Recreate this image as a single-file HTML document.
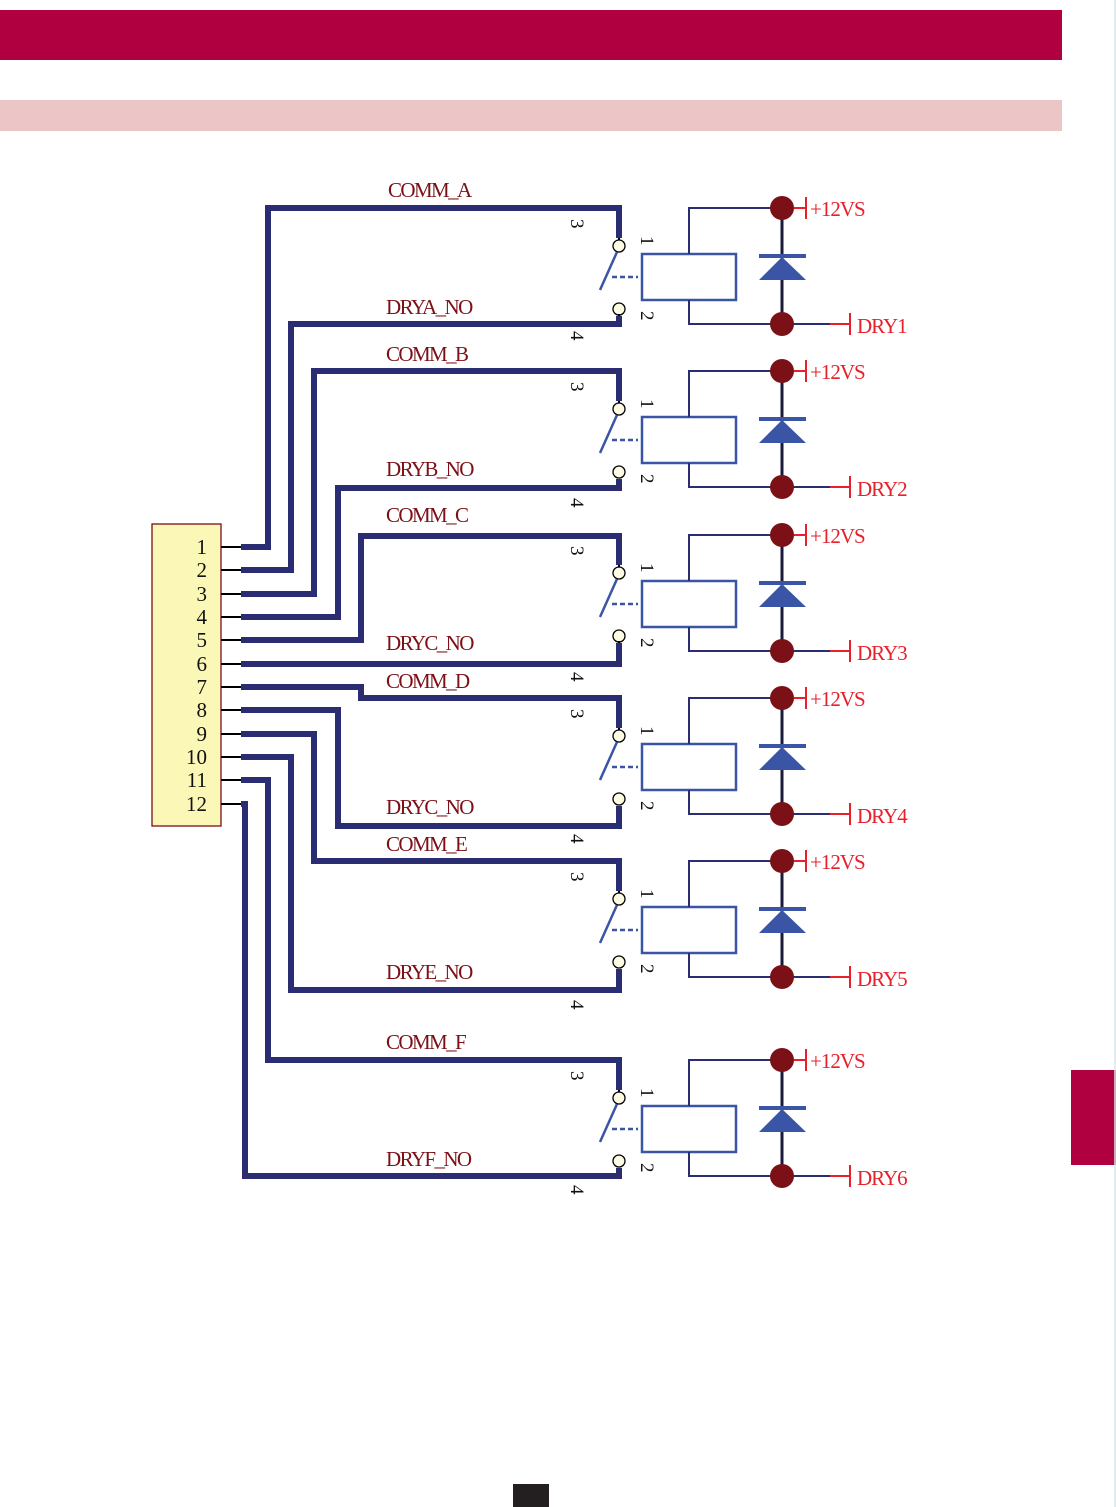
<!DOCTYPE html>
<html><head><meta charset="utf-8"><style>
html,body{margin:0;padding:0;background:#fff;}
svg{display:block;}
.lb{font-family:"Liberation Serif",serif;font-size:21px;fill:#7b1016;letter-spacing:-1.6px;}
.rd{font-family:"Liberation Serif",serif;font-size:21px;fill:#e8202a;letter-spacing:-1px;}
.dg{font-family:"Liberation Serif",serif;font-size:19px;fill:#111;}
.pn{font-family:"Liberation Serif",serif;font-size:21px;fill:#111;}
</style></head><body>
<svg width="1116" height="1507" viewBox="0 0 1116 1507" xmlns="http://www.w3.org/2000/svg">
<defs>
<g id="r">
 <line x1="619" y1="30" x2="619" y2="34" stroke="#000" stroke-width="2"/>
 <circle cx="619" cy="38" r="6" fill="#fdfbe3" stroke="#000" stroke-width="1.3"/>
 <circle cx="619" cy="101" r="6" fill="#fdfbe3" stroke="#000" stroke-width="1.3"/>
 <line x1="617" y1="44" x2="600" y2="82" stroke="#3a55a5" stroke-width="2.5"/>
 <line x1="612" y1="69" x2="638" y2="69" stroke="#3a55a5" stroke-width="2.5" stroke-dasharray="5,3"/>
 <rect x="642" y="46" width="94" height="46" fill="#fff" stroke="#3a55a5" stroke-width="2.5"/>
 <polyline points="689,46 689,0 782,0" fill="none" stroke="#2b2d72" stroke-width="2"/>
 <polyline points="689,92 689,116 830,116" fill="none" stroke="#2b2d72" stroke-width="2"/>
 <line x1="782" y1="0" x2="782" y2="116" stroke="#1a1a3a" stroke-width="3"/>
 <line x1="759" y1="48" x2="806" y2="48" stroke="#3a55a5" stroke-width="4"/>
 <polygon points="759,72 806,72 782,49" fill="#3a55a5"/>
 <circle cx="782" cy="0" r="12" fill="#7b1016"/>
 <circle cx="782" cy="116" r="12" fill="#7b1016"/>
 <line x1="794" y1="0" x2="806" y2="0" stroke="#e8202a" stroke-width="2"/>
 <line x1="806" y1="-11" x2="806" y2="11" stroke="#e8202a" stroke-width="2"/>
 <line x1="830" y1="116" x2="850" y2="116" stroke="#e8202a" stroke-width="2"/>
 <line x1="850" y1="105" x2="850" y2="127" stroke="#e8202a" stroke-width="2"/>
</g>
</defs>
<rect x="0" y="10" width="1062" height="50" fill="#b0003f"/>
<rect x="0" y="100" width="1062" height="31" fill="#ecc6c6"/>
<rect x="1071" y="1070" width="45" height="95" fill="#b0003f"/>
<rect x="513" y="1484" width="36" height="23" fill="#231f20"/>
<line x1="1115" y1="0" x2="1115" y2="1507" stroke="#dbe6ec" stroke-width="1.5"/>

<!-- connector -->
<rect x="152" y="524" width="69" height="302" fill="#fbf7b6" stroke="#7b1016" stroke-width="1.3"/>
<g stroke="#000" stroke-width="2">
<line x1="221" y1="547" x2="241" y2="547"/><line x1="221" y1="570" x2="241" y2="570"/>
<line x1="221" y1="594" x2="241" y2="594"/><line x1="221" y1="617" x2="241" y2="617"/>
<line x1="221" y1="640" x2="241" y2="640"/><line x1="221" y1="664" x2="241" y2="664"/>
<line x1="221" y1="687" x2="241" y2="687"/><line x1="221" y1="710" x2="241" y2="710"/>
<line x1="221" y1="734" x2="241" y2="734"/><line x1="221" y1="757" x2="241" y2="757"/>
<line x1="221" y1="780" x2="241" y2="780"/><line x1="221" y1="804" x2="241" y2="804"/>
</g>
<g class="pn" text-anchor="end">
<text x="207" y="554">1</text><text x="207" y="577">2</text><text x="207" y="601">3</text>
<text x="207" y="624">4</text><text x="207" y="647">5</text><text x="207" y="671">6</text>
<text x="207" y="694">7</text><text x="207" y="717">8</text><text x="207" y="741">9</text>
<text x="207" y="764">10</text><text x="207" y="787">11</text><text x="207" y="811">12</text>
</g>

<!-- relays -->
<use href="#r" y="208"/><use href="#r" y="371"/><use href="#r" y="535"/>
<use href="#r" y="698"/><use href="#r" y="861"/><use href="#r" y="1060"/>

<!-- wires -->
<g fill="none" stroke="#2b2d72" stroke-width="6" stroke-linejoin="miter">
<path d="M241 547 H268 V208 H619 V238"/>
<path d="M241 570 H291 V324 H619 V316"/>
<path d="M241 594 H314 V371 H619 V401"/>
<path d="M241 617 H338 V488 H619 V479"/>
<path d="M241 640 H361 V536 H619 V565"/>
<path d="M241 664 H619 V643"/>
<path d="M241 687 H361 V698 H619 V728"/>
<path d="M241 710 H338 V826 H619 V806"/>
<path d="M241 734 H314 V861 H619 V891"/>
<path d="M241 757 H291 V990 H619 V969"/>
<path d="M241 780 H268 V1060 H619 V1090"/>
<path d="M241 804 H245 V1176 H619 V1168"/>
</g>
<g stroke="#000" stroke-width="2">
<line x1="619" y1="316" x2="619" y2="314"/>
<line x1="619" y1="643" x2="619" y2="641"/>
</g>

<!-- labels -->
<g class="lb">
<text x="388" y="197">COMM_A</text><text x="386" y="314">DRYA_NO</text>
<text x="386" y="361">COMM_B</text><text x="386" y="476">DRYB_NO</text>
<text x="386" y="522">COMM_C</text><text x="386" y="650">DRYC_NO</text>
<text x="386" y="688">COMM_D</text><text x="386" y="814">DRYC_NO</text>
<text x="386" y="851">COMM_E</text><text x="386" y="979">DRYE_NO</text>
<text x="386" y="1049">COMM_F</text><text x="386" y="1166">DRYF_NO</text>
</g>
<g class="rd">
<text x="810" y="216">+12VS</text><text x="857" y="333">DRY1</text>
<text x="810" y="379">+12VS</text><text x="857" y="496">DRY2</text>
<text x="810" y="543">+12VS</text><text x="857" y="660">DRY3</text>
<text x="810" y="706">+12VS</text><text x="857" y="823">DRY4</text>
<text x="810" y="869">+12VS</text><text x="857" y="986">DRY5</text>
<text x="810" y="1068">+12VS</text><text x="857" y="1185">DRY6</text>
</g>
<g class="dg">
<text transform="translate(571,219) rotate(90)">3</text>
<text transform="translate(641,236) rotate(90)">1</text>
<text transform="translate(641,311) rotate(90)">2</text>
<text transform="translate(571,331) rotate(90)">4</text>

<text transform="translate(571,382) rotate(90)">3</text>
<text transform="translate(641,399) rotate(90)">1</text>
<text transform="translate(641,474) rotate(90)">2</text>
<text transform="translate(571,498) rotate(90)">4</text>

<text transform="translate(571,546) rotate(90)">3</text>
<text transform="translate(641,563) rotate(90)">1</text>
<text transform="translate(641,638) rotate(90)">2</text>
<text transform="translate(571,672) rotate(90)">4</text>

<text transform="translate(571,709) rotate(90)">3</text>
<text transform="translate(641,726) rotate(90)">1</text>
<text transform="translate(641,801) rotate(90)">2</text>
<text transform="translate(571,834) rotate(90)">4</text>

<text transform="translate(571,872) rotate(90)">3</text>
<text transform="translate(641,889) rotate(90)">1</text>
<text transform="translate(641,964) rotate(90)">2</text>
<text transform="translate(571,1000) rotate(90)">4</text>

<text transform="translate(571,1071) rotate(90)">3</text>
<text transform="translate(641,1088) rotate(90)">1</text>
<text transform="translate(641,1163) rotate(90)">2</text>
<text transform="translate(571,1185) rotate(90)">4</text>
</g>
</svg>
</body></html>
